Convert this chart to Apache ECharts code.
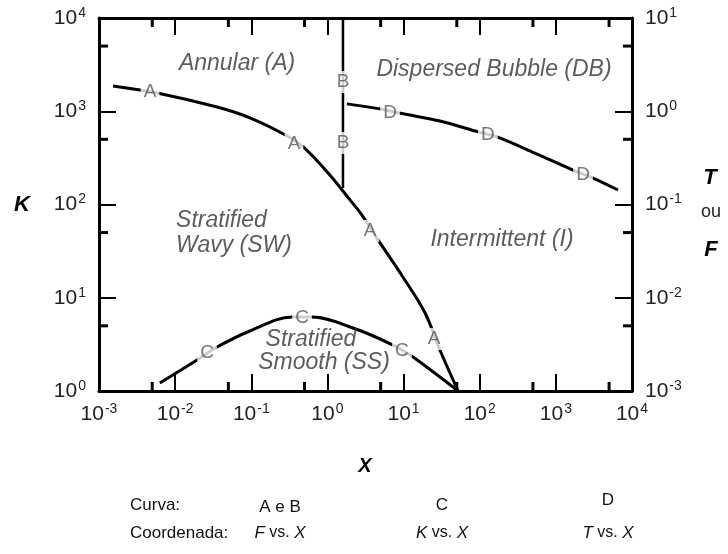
<!DOCTYPE html>
<html>
<head>
<meta charset="utf-8">
<script src="https://cdn.jsdelivr.net/npm/echarts@6/dist/echarts.min.js"></script>
<style>
  html, body { margin: 0; padding: 0; background: #fff; }
  #chart { width: 728px; height: 554px; }
</style>
</head>
<body>
<div id="chart"></div>
<script>
// Flow-pattern map: boundary curves plotted against the parameter X.
// Curves A and B use F (right axis), C uses K (left axis), D uses T (right axis).
const curveA = [
  [0.00153, 1.87], [0.0058, 1.57], [0.0355, 1.11], [0.096, 0.85],
  [0.28, 0.556], [0.48, 0.414], [1.02, 0.218], [1.98, 0.112],
  [2.84, 0.077], [4.6, 0.042], [9.8, 0.0167], [19.1, 0.0069],
  [30, 0.00275], [52, 0.001]
];
const curveB = [[1.6, 10], [1.6, 0.15]];
const curveC = [
  [0.0063, 1.22], [0.0194, 2.15], [0.0355, 2.96], [0.096, 4.4],
  [0.343, 6.22], [0.627, 6.22], [2.17, 4.74], [7.26, 3.11],
  [13.3, 2.32], [52, 1]
];
const curveD = [
  [1.8, 1.2], [4.9, 1.06], [8.7, 0.957], [30, 0.785], [98, 0.598],
  [169, 0.53], [530, 0.356], [1680, 0.234], [3080, 0.192], [6550, 0.143]
];

// Letter tags sitting on the curves
const tagsA = [[0.00468, 1.61], [0.364, 0.446], [3.62, 0.052], [25.1, 0.00361]];
const tagsB = [[1.6, 2.06], [1.6, 0.457]];
const tagsC = [[0.0262, 2.56], [0.464, 6.07], [9.53, 2.69]];
const tagsD = [[6.64, 0.957], [128, 0.556], [2275, 0.207]];

// Regime names, placed in (X, K) coordinates
const regionNames = ['Annular (A)', 'Dispersed Bubble (DB)', 'Stratified\nWavy (SW)',
                     'Intermittent (I)', 'Stratified', 'Smooth (SS)'];
const regionPos = [[0.065, 3210], [154, 2770], [0.0103, 49.4],
                   [196, 41.6], [0.608, 3.52], [0.902, 2.0]];
const regionAlign = ['center', 'center', 'left', 'center', 'center', 'center'];

// Axis ranges and the 5x10^n minor ticks
const xRange = [1e-3, 1e4];
const kRange = [1, 1e4];
const tfRange = [1e-3, 1e1];
const xMinorTicks = [0.005, 0.05, 0.5, 5, 50, 500, 5000];
const kMinorTicks = [5, 50, 500, 5000];
const tfMinorTicks = [0.005, 0.05, 0.5, 5];

const FONT = "'Liberation Sans', Arial, Helvetica, sans-serif";
const MAJOR_LEN = 17, MINOR_LEN = 9;

const chart = echarts.init(document.getElementById('chart'), null, { renderer: 'canvas' });

function powLabel(v) {
  return '{b|10}{s|' + Math.round(Math.log10(v)) + '}';
}
const labelRich = {
  b: { fontSize: 21, color: '#222', fontFamily: FONT, lineHeight: 24 },
  s: { fontSize: 14, color: '#222', fontFamily: FONT, verticalAlign: 'top', lineHeight: 24, padding: [0, 0, 0, 1] }
};
const axisLineStyle = { show: true, lineStyle: { color: '#000', width: 3 } };
const majorTick = { show: true, inside: true, length: MAJOR_LEN, lineStyle: { color: '#000', width: 2 } };

function logAxis(range, extra) {
  return Object.assign({
    type: 'log', logBase: 10, min: range[0], max: range[1],
    axisLine: axisLineStyle, axisTick: majorTick,
    splitLine: { show: false }, minorTick: { show: false }
  }, extra);
}

function line(data, yIdx, width) {
  return {
    type: 'line', data: data, xAxisIndex: 0, yAxisIndex: yIdx,
    showSymbol: false, smooth: 0.35, z: 2, silent: true,
    lineStyle: { color: '#000', width: width || 3, cap: 'butt' }
  };
}

function tags(data, yIdx, letter) {
  return {
    type: 'scatter', data: data, xAxisIndex: 0, yAxisIndex: yIdx,
    symbolSize: 1, itemStyle: { color: 'rgba(0,0,0,0)' }, z: 4, silent: true,
    label: {
      show: true, position: 'inside', formatter: letter,
      fontFamily: FONT, fontSize: 19, color: '#555',
      backgroundColor: '#fff', padding: [2, 3, 1, 3]
    }
  };
}

// Short ticks at 5x10^n, drawn inward from both edges of the plot
function minorTicks(values, dir, yIdx) {
  return {
    type: 'custom', xAxisIndex: 0, yAxisIndex: yIdx, silent: true, z: 5,
    data: values.map(v => dir === 'x' ? [v, kRange[0]] : [xRange[0], v]),
    renderItem: function (params, api) {
      const st = { stroke: '#000', lineWidth: 3 };
      if (dir === 'x') {
        const v = api.value(0);
        const b = api.coord([v, kRange[0]]);
        const t = api.coord([v, kRange[1]]);
        return { type: 'group', children: [
          { type: 'line', shape: { x1: b[0], y1: b[1], x2: b[0], y2: b[1] - MINOR_LEN }, style: st },
          { type: 'line', shape: { x1: t[0], y1: t[1], x2: t[0], y2: t[1] + MINOR_LEN }, style: st }
        ] };
      }
      const v = api.value(1);
      const p = api.coord([yIdx === 0 ? xRange[0] : xRange[1], v]);
      const dx = yIdx === 0 ? MINOR_LEN : -MINOR_LEN;
      return { type: 'line', shape: { x1: p[0], y1: p[1], x2: p[0] + dx, y2: p[1] }, style: st };
    }
  };
}

const regionSeries = {
  type: 'scatter', xAxisIndex: 0, yAxisIndex: 0, z: 3, silent: true,
  symbolSize: 1, itemStyle: { color: 'rgba(0,0,0,0)' },
  data: regionNames.map((n, i) => ({
    name: n, value: regionPos[i],
    label: { align: regionAlign[i] }
  })),
  label: {
    show: true, position: 'inside', formatter: '{b}',
    fontFamily: FONT, fontStyle: 'italic', fontSize: 23, color: '#333', lineHeight: 25
  }
};

const textBase = { fontFamily: FONT, fill: '#111' };
function txt(x, y, s, o) {
  return { type: 'text', x: x, y: y, silent: true,
    style: Object.assign({}, textBase, { text: s, align: 'center', verticalAlign: 'middle', fontSize: 17 }, o || {}) };
}
function richTxt(x, y, s, o) {
  return { type: 'text', x: x, y: y, silent: true,
    style: Object.assign({ text: s, align: 'center', verticalAlign: 'middle', fontFamily: FONT, fill: '#111',
      fontSize: 17,
      rich: { i: { fontStyle: 'italic', fontSize: 17, fontFamily: FONT, fill: '#111' },
              n: { fontSize: 16, fontFamily: FONT, fill: '#111' } } }, o || {}) };
}

chart.setOption({
  animation: false,
  backgroundColor: '#fff',
  grid: { left: 99, top: 18, width: 533, height: 373, containLabel: false },
  xAxis: [
    logAxis(xRange, { position: 'bottom',
      axisLabel: { margin: 11, formatter: powLabel, rich: labelRich } }),
    logAxis(xRange, { position: 'top', axisLabel: { show: false } })
  ],
  yAxis: [
    logAxis(kRange, { position: 'left',
      axisLabel: { margin: 13, formatter: powLabel, rich: labelRich } }),
    logAxis(tfRange, { position: 'right',
      axisLabel: { margin: 13, formatter: powLabel, rich: labelRich } })
  ],
  series: [
    line(curveA, 1, 3),
    line(curveB, 1, 2.5),
    line(curveC, 0, 3),
    line(curveD, 1, 3),
    tags(tagsA, 1, 'A'),
    tags(tagsB, 1, 'B'),
    tags(tagsC, 0, 'C'),
    tags(tagsD, 1, 'D'),
    regionSeries,
    minorTicks(xMinorTicks, 'x', 0),
    minorTicks(kMinorTicks, 'y', 0),
    minorTicks(tfMinorTicks, 'y', 1)
  ],
  graphic: [
    txt(22, 205, 'K', { fontSize: 22, fontWeight: 'bold', fontStyle: 'italic', fill: '#000' }),
    txt(710, 178, 'T', { fontSize: 22, fontWeight: 'bold', fontStyle: 'italic', fill: '#000' }),
    txt(711, 212, 'ou', { fontSize: 18, fill: '#222' }),
    txt(711, 250, 'F', { fontSize: 22, fontWeight: 'bold', fontStyle: 'italic', fill: '#000' }),
    txt(365, 466, 'X', { fontSize: 20, fontWeight: 'bold', fontStyle: 'italic', fill: '#000' }),
    txt(130, 505, 'Curva:', { align: 'left' }),
    txt(130, 533, 'Coordenada:', { align: 'left' }),
    txt(280, 507, 'A e B'),
    txt(442, 505, 'C'),
    txt(608, 500, 'D'),
    richTxt(280, 533, '{i|F}{n| vs. }{i|X}'),
    richTxt(442, 533, '{i|K}{n| vs. }{i|X}'),
    richTxt(608, 533, '{i|T}{n| vs. }{i|X}')
  ]
});
</script>
</body>
</html>
